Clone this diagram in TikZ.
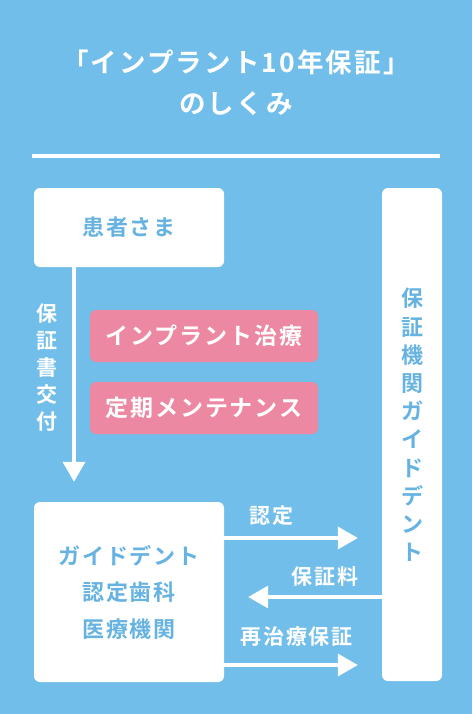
\documentclass[tikz,border=0pt]{standalone}
\usepackage{fontspec}
\setmainfont{Noto Sans CJK JP}[BoldFont={* Bold},LetterSpace=8]
\usetikzlibrary{arrows.meta}
\definecolor{skybg}{HTML}{72BEEB}
\definecolor{skytext}{HTML}{66B3E2}
\definecolor{rosebox}{HTML}{EC88A1}
\begin{document}
\begin{tikzpicture}[x=1pt,y=-1pt,>={Triangle[width=22pt,length=20pt]},
    box/.style={fill=white,rounded corners=6pt,inner sep=0pt,text=skytext,font=\fontsize{22}{28}\selectfont\bfseries},
    menu/.style={fill=rosebox,rounded corners=6pt,minimum width=228pt,minimum height=52pt,inner sep=0pt,text=white,font=\fontsize{23}{28}\selectfont\bfseries},
    tag/.style={inner sep=0pt,text=white,font=\fontsize{21}{27}\selectfont\bfseries},
    flow/.style={white,line width=3.5pt,->}]
            % draw the background
            \fill[skybg,use as bounding box] (0,0) rectangle (472,714);

            % title and rule
            \node[tag,align=center,font=\fontsize{26.5}{41}\selectfont\bfseries] (title) at (236,83) {「インプラント10年保証」\\のしくみ};
            \draw[white,line width=4pt] (32,156) -- (440,156);

            % boxes
            \node[box,minimum width=190pt,minimum height=79pt] (patient) at (129,227.5) {患者さま};
            \node[box,minimum width=190pt,minimum height=180pt,align=center,font=\fontsize{22}{36.5}\selectfont\bfseries] (clinic) at (129,592) {ガイドデント\\認定歯科\\医療機関};
            \node[box,minimum width=60pt,minimum height=493pt] (guide) at (412,434.5) {};
            \node[tag,text=skytext,align=center,font=\fontsize{22}{28.2}\selectfont\bfseries] (guidename) at (412,425) {保\\証\\機\\関\\ガ\\イ\\ド\\デ\\ン\\ト};

            % treatment
            \node[menu] (implant) at (204,336) {インプラント治療};
            \node[menu] (upkeep) at (204,408) {定期メンテナンス};

            % certificate
            \coordinate (drop) at (74,0);
            \draw[flow,shorten >=20pt] (patient.south -| drop) -- (clinic.north -| drop);
            \node[tag,align=center] (issue) at (47,368) {保\\証\\書\\交\\付};

            % arrows between clinic and guide
            \coordinate (nintei) at (0,538);
            \coordinate (fee) at (0,597);
            \coordinate (rework) at (0,665);
            \draw[flow,shorten >=24pt] (clinic.east |- nintei) -- node[tag,pos=.3,above=10.4pt] {認定} (guide.west |- nintei);
            \draw[flow,shorten >=24pt] (guide.west |- fee) -- node[tag,pos=.36,above=8.4pt] {保証料} (clinic.east |- fee);
            \draw[flow,shorten >=24pt] (clinic.east |- rework) -- node[tag,pos=.46,above=16.4pt] {再治療保証} (guide.west |- rework);
        \end{tikzpicture}
\end{document}
